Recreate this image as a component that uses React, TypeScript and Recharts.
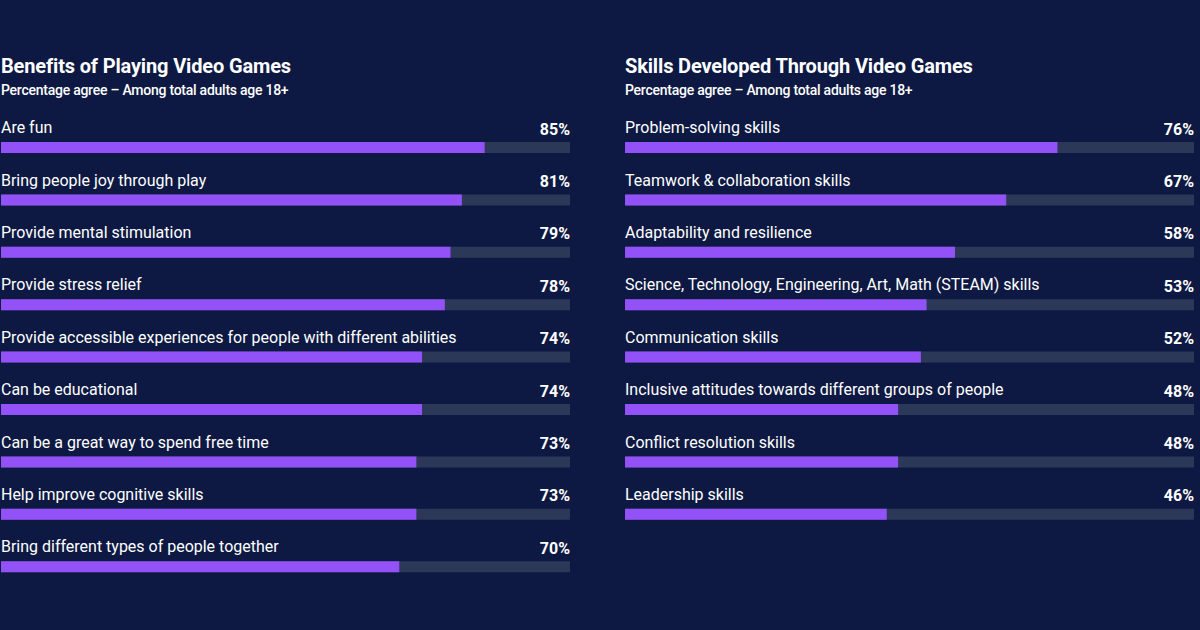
import React from "react";
import { BarChart, Bar, XAxis, YAxis } from "recharts";

const benefitLabels = [
  "Are fun",
  "Bring people joy through play",
  "Provide mental stimulation",
  "Provide stress relief",
  "Provide accessible experiences for people with different abilities",
  "Can be educational",
  "Can be a great way to spend free time",
  "Help improve cognitive skills",
  "Bring different types of people together",
];
const benefitValues = [85, 81, 79, 78, 74, 74, 73, 73, 70];

const skillLabels = [
  "Problem-solving skills",
  "Teamwork & collaboration skills",
  "Adaptability and resilience",
  "Science, Technology, Engineering, Art, Math (STEAM) skills",
  "Communication skills",
  "Inclusive attitudes towards different groups of people",
  "Conflict resolution skills",
  "Leadership skills",
];
const skillValues = [76, 67, 58, 53, 52, 48, 48, 46];

const BG = "#0d1942";
const PURPLE = "#9352f7";
const TRACK = "#2c3858";
const FONT = "Roboto, 'Noto Sans', sans-serif";
const ROW = 52.4;
const PAD = 20;

function Panel({
  left,
  title,
  subtitle,
  labels,
  values,
}: {
  left: number;
  title: string;
  subtitle: string;
  labels: string[];
  values: number[];
}) {
  const data = labels.map((name, i) => ({ name, value: values[i] }));

  const NameTick = (props: any) => {
    const { x, y, payload } = props;
    return (
      <text x={x} y={y - 14} fill="#ffffff" fontSize={16} fontFamily={FONT}>
        {payload.value}
      </text>
    );
  };

  const PctTick = (props: any) => {
    const { x, y, index } = props;
    return (
      <text
        x={x}
        y={y - 12.5}
        fill="#ffffff"
        fontSize={16}
        fontWeight={700}
        fontFamily={FONT}
        textAnchor="end"
      >
        {data[index].value}%
      </text>
    );
  };

  return (
    <div style={{ position: "absolute", left, top: 0 }}>
      <div
        style={{
          position: "absolute",
          top: 54,
          left: 0,
          whiteSpace: "nowrap",
          color: "#fff",
          fontFamily: FONT,
          fontWeight: 700,
          fontSize: 20,
          letterSpacing: -0.15,
        }}
      >
        {title}
      </div>
      <div
        style={{
          position: "absolute",
          top: 82,
          left: 0,
          whiteSpace: "nowrap",
          color: "#fff",
          fontFamily: FONT,
          fontWeight: 500,
          fontSize: 14,
          letterSpacing: -0.25,
        }}
      >
        {subtitle}
      </div>
      <div style={{ position: "absolute", top: 121.3 - PAD, left: -1 }}>
        <BarChart
          width={571}
          height={labels.length * ROW + PAD}
          data={data}
          layout="vertical"
          margin={{ top: PAD, right: 0, bottom: 0, left: 0 }}
        >
          <XAxis type="number" domain={[0, 100]} hide />
          <YAxis
            yAxisId="names"
            type="category"
            dataKey="name"
            width={1}
            axisLine={false}
            tickLine={false}
            tickSize={0}
            tickMargin={0}
            interval={0}
            tick={<NameTick />}
          />
          <YAxis
            yAxisId="pct"
            orientation="right"
            type="category"
            dataKey="name"
            width={1}
            axisLine={false}
            tickLine={false}
            tickSize={0}
            tickMargin={0}
            interval={0}
            tick={<PctTick />}
          />
          <Bar
            yAxisId="names"
            dataKey="value"
            fill={PURPLE}
            barSize={11}
            background={{ fill: TRACK }}
            isAnimationActive={false}
          />
        </BarChart>
      </div>
    </div>
  );
}

export default function App() {
  return (
    <div
      style={{
        position: "fixed",
        left: 0,
        top: 0,
        width: 1200,
        height: 630,
        background: BG,
        overflow: "hidden",
      }}
    >
      <Panel
        left={1}
        title="Benefits of Playing Video Games"
        subtitle="Percentage agree – Among total adults age 18+"
        labels={benefitLabels}
        values={benefitValues}
      />
      <Panel
        left={625}
        title="Skills Developed Through Video Games"
        subtitle="Percentage agree – Among total adults age 18+"
        labels={skillLabels}
        values={skillValues}
      />
    </div>
  );
}
